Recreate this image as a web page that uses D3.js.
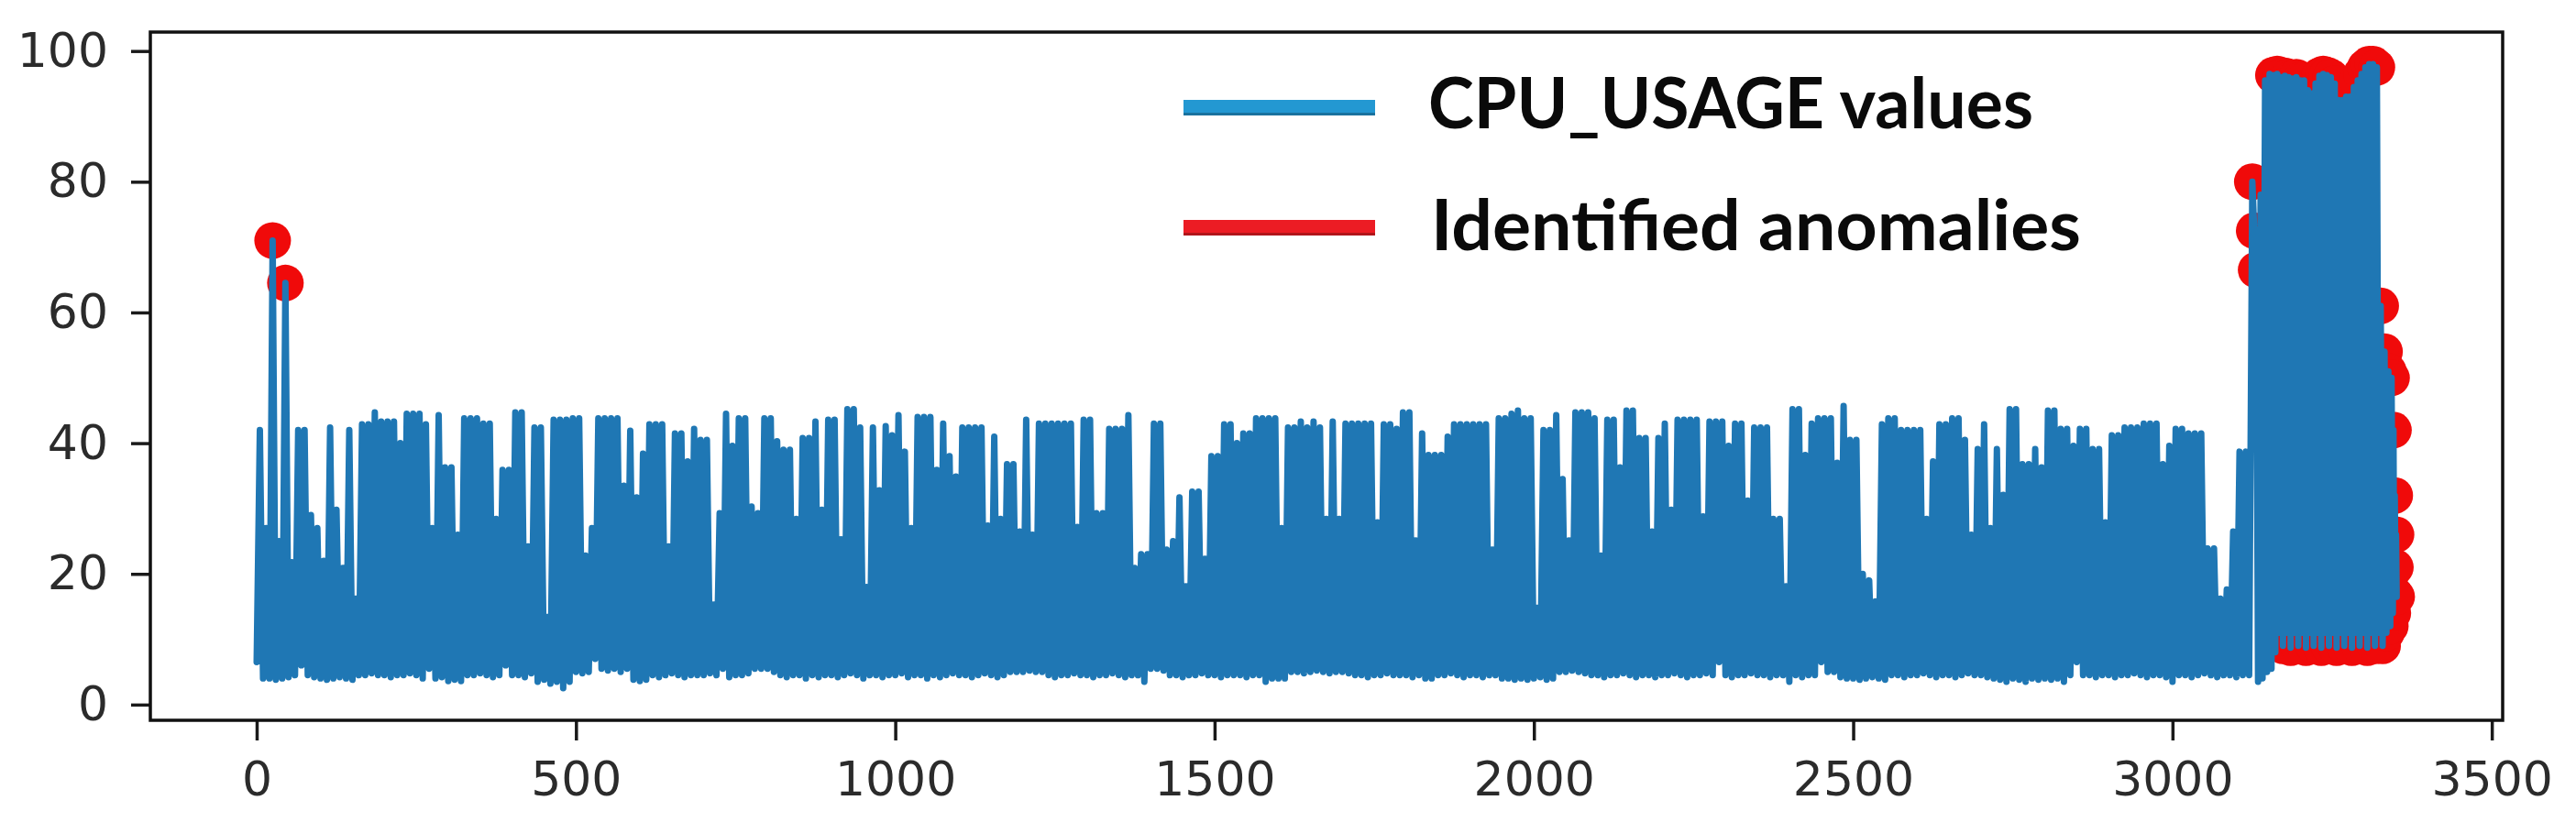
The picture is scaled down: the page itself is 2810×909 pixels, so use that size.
<!DOCTYPE html>
<html>
<head>
<meta charset="utf-8">
<script src="https://cdn.jsdelivr.net/npm/d3@7"></script>
<style>
html,body{margin:0;padding:0;background:#ffffff;}
svg{display:block;}
</style>
</head>
<body>
<svg id="chart" width="2810" height="909"></svg>
<script>
// ---------------- DATA ----------------
// CPU_USAGE is very dense; it is given as one trough and one peak per 10 samples
// (trough at sample 10*i, peak at sample 10*i+5) up to sample 3119.
const cpuPeak = [
  42, 27, 71, 25, 64.5, 21.8, 42, 42, 29, 27,
  22, 42.4, 29.8, 20.9, 42, 16.2, 42.9, 42.9, 44.7, 43.3,
  43.3, 43.3, 40, 44.5, 44.5, 44.5, 42.9, 27, 44.3, 36.3,
  36.3, 26, 43.8, 43.8, 43.8, 43, 43, 28.4, 35.9, 35.9,
  44.7, 44.7, 24.2, 42.4, 42.4, 13.4, 43.6, 43.6, 43.6, 43.8,
  43.8, 22.8, 27, 43.8, 43.8, 43.8, 43.8, 33.5, 41.9, 31.7,
  38.4, 42.9, 42.9, 42.9, 24.2, 41.5, 41.5, 37.2, 42.2, 40.5,
  40.5, 15.3, 29.3, 44.5, 39.6, 43.8, 43.8, 30.3, 29.3, 43.8,
  43.8, 40.3, 39, 39, 28.4, 40.8, 40.8, 43.3, 29.8, 43.6,
  43.6, 25.3, 45.2, 45.2, 42.4, 18, 42.4, 32.8, 42.6, 41.2,
  44.3, 38.7, 27, 44, 44, 44, 35.9, 43, 38, 34.9,
  42.4, 42.4, 42.4, 42.4, 27.4, 41, 28.4, 36.8, 36.8, 26.5,
  43.6, 26, 43, 43, 43, 43, 43, 43, 27.2, 43.6,
  43.6, 29.3, 29.3, 42.2, 42.2, 42.2, 44.3, 20.9, 23, 23,
  43, 43, 23.7, 25, 31.7, 18.1, 32.6, 32.6, 22.3, 38,
  38, 42.9, 42.9, 40, 41.5, 41.5, 43.8, 43.8, 43.8, 43.8,
  27, 42.4, 42.4, 43.3, 42.4, 43.3, 42.4, 28.4, 43.3, 28.4,
  43, 43, 43, 43, 43, 27.9, 42.9, 42.9, 42.2, 44.7,
  44.7, 25.1, 41.5, 38.2, 38.2, 38.2, 41, 42.9, 42.9, 42.9,
  42.9, 42.9, 42.9, 23.7, 43.8, 43.8, 44.5, 45, 43.8, 43.8,
  14.8, 42, 42, 44.3, 34.5, 25.1, 44.7, 44.7, 44.7, 43.8,
  22.8, 43.6, 43.6, 36.3, 45, 45, 40.8, 40.8, 26.5, 40.8,
  43, 29.8, 43.6, 43.6, 43.6, 43.6, 28.8, 43.3, 43.3, 43.3,
  39.6, 43, 43, 31.2, 42.4, 42.4, 42.4, 28.4, 28.4, 18.1,
  45.2, 45.2, 38.2, 43, 43.8, 43.8, 43.8, 37, 45.7, 40.5,
  40.5, 20, 19, 15.8, 42.9, 43.8, 43.8, 42, 42, 42,
  42, 28.4, 37.2, 42.9, 42.9, 43.8, 43.8, 40.5, 26, 39.1,
  42.9, 27, 39.1, 32.1, 45.2, 45.2, 36.8, 36.8, 39.1, 36.3,
  45, 45, 42.2, 42.2, 39.6, 42.2, 42.2, 39.1, 39.1, 27.9,
  41.2, 41.2, 42.4, 42.4, 42.4, 43, 43, 43, 36.8, 39.6,
  42.2, 42.2, 41.5, 41.5, 41.5, 23.9, 23.9, 16.2, 17.6, 26.5,
  38.7, 38.7
];
const cpuTrough = [
  6.5, 4, 4, 3.8, 4, 4.2, 4.5, 6, 4.5, 4.2,
  4, 3.8, 4, 4.2, 4, 3.8, 4.5, 4.5, 4.8, 4.5,
  4.5, 4.2, 4.5, 4.5, 4.8, 4.5, 4, 5.5, 4, 4.2,
  3.6, 3.8, 3.6, 4.5, 4.5, 4.8, 4.5, 4.2, 4.5, 6,
  4.5, 4.5, 4.2, 4.8, 3.5, 3.8, 3.2, 3.5, 2.5, 3.5,
  5, 4.8, 5, 7, 5.5, 5.2, 5.5, 5, 5.5, 3.8,
  3.6, 3.8, 4.5, 4.2, 4.5, 4.8, 4.5, 4.2, 4.5, 4.5,
  4.5, 4.8, 4.5, 5.5, 4.2, 4.5, 4.5, 4.8, 5.5, 5.5,
  5.5, 5, 4.5, 4.2, 4.5, 4.5, 4, 4.5, 4.2, 4.5,
  4.5, 4.2, 4.5, 4.8, 4.5, 4, 4.5, 4.5, 4.2, 4.5,
  4.5, 4.8, 4.2, 4.5, 4.5, 4, 4.5, 4.2, 4.5, 4.8,
  4.5, 4.5, 4.2, 4.5, 4.8, 4.5, 4.2, 4.5, 5, 5,
  5, 5.2, 5, 5, 4.5, 4.2, 4.5, 4.5, 4.8, 4.5,
  4.5, 4.2, 4.5, 4.5, 4.8, 4.5, 4.2, 4.5, 4.5, 3.5,
  5.5, 5.5, 5.2, 4.5, 4.5, 4.2, 4.5, 4.5, 4.8, 4.5,
  4.5, 4.2, 4.5, 4.5, 4.5, 4.2, 4.5, 4.5, 3.5, 4,
  4, 4, 5, 5, 4.8, 5, 5.2, 5, 4.8, 5,
  5, 4.8, 4.5, 4.5, 4.2, 4.5, 4.5, 4.8, 4.5, 4.5,
  4.5, 4.2, 4.5, 4, 4, 4.5, 4.5, 4.8, 4.5, 4.2,
  4.5, 4.5, 4.2, 4.5, 4.5, 4, 4, 3.8, 4, 3.8,
  4, 4.2, 3.8, 4, 5, 5, 5.2, 5, 4.8, 4.5,
  4.5, 4.2, 4.5, 4.5, 4.8, 4.5, 4.2, 4.5, 4.5, 4.2,
  4.5, 4.5, 4.8, 4.5, 4.2, 4.5, 4.5, 4.8, 4.5, 6.5,
  4.5, 4.2, 4.5, 4.5, 4.8, 4.5, 4.5, 4.2, 4.5, 4.5,
  3.5, 4.5, 4.2, 4.5, 4.5, 6.5, 5, 5, 4.2, 4,
  4, 3.8, 4, 4.2, 4, 3.8, 4.5, 4.5, 4.2, 4.5,
  4.5, 4.8, 4.5, 4.2, 4.5, 4.5, 4.2, 4.5, 4.8, 4.5,
  4.5, 4.2, 4, 3.8, 3.5, 4, 3.8, 3.5, 4, 3.8,
  4, 3.8, 4, 3.5, 4.5, 6.5, 4.5, 4.5, 4.2, 4.5,
  4.5, 4.2, 4.5, 4.5, 4.8, 4.5, 4.2, 4.5, 4.5, 4.2,
  3.5, 4.5, 4.5, 4.2, 4.5, 4.8, 4.5, 4.2, 4.5, 4.5,
  4.2, 4.5
];
// Final stretch (anomalous burst) given sample by sample
const tailIndex = [
  3120, 3125, 3128, 3131, 3134, 3138, 3141, 3145, 3148, 3152,
  3155, 3158, 3161, 3164, 3167, 3170, 3173, 3176, 3179, 3182,
  3185, 3188, 3191, 3194, 3197, 3200, 3203, 3206, 3209, 3212,
  3215, 3218, 3221, 3224, 3227, 3230, 3233, 3236, 3239, 3242,
  3245, 3248, 3251, 3254, 3257, 3260, 3263, 3266, 3269, 3272,
  3275, 3278, 3281, 3284, 3287, 3290, 3293, 3296, 3299, 3302,
  3305, 3308, 3311, 3314, 3317, 3320, 3323, 3326, 3329, 3332,
  3335, 3338, 3341, 3343, 3345, 3346, 3347, 3348, 3349, 3350,
  3351
];
const tailValue = [
  4.5, 80, 72.5, 66.5, 3.5, 78, 4, 95.5, 5, 96.5,
  5.5, 96.3, 8, 96.5, 11, 96, 9, 96.2, 11, 96,
  8.7, 95.8, 11, 96, 9, 95.5, 11, 95.5, 8.7, 94,
  11, 93.5, 9, 95, 11, 96.2, 8.7, 96.5, 11, 96.3,
  9, 96, 11, 95, 8.7, 92.5, 11, 92.5, 9, 93,
  11, 93, 8.7, 94.5, 11, 95.5, 9, 96.5, 11, 97.5,
  8.7, 98, 11, 98, 9, 97.5, 11, 61, 9, 54,
  11, 51, 12, 50, 14, 42, 17, 32, 21, 26,
  16.5
];
// Identified anomalies (sample index, value)
const anomalyIndex = [
  25, 45,
  3125, 3128, 3131, 3158, 3164, 3167, 3170, 3173, 3176, 3179, 3182,
  3185, 3188, 3191, 3194, 3197, 3200, 3203, 3206, 3209, 3212,
  3215, 3218, 3221, 3224, 3227, 3230, 3233, 3236, 3239, 3242,
  3245, 3248, 3251, 3254, 3257, 3260, 3263, 3266, 3269, 3272,
  3275, 3278, 3281, 3284, 3287, 3290, 3293, 3296, 3299, 3302,
  3305, 3308, 3311, 3314, 3317, 3320, 3323, 3326, 3329, 3332,
  3335, 3338, 3341, 3343, 3345, 3346, 3347, 3348, 3349, 3350, 3351
];
const anomalyValue = [
  71, 64.5,
  80, 72.5, 66.5, 96.3, 96.5, 11, 96, 9, 96.2, 11, 96,
  8.7, 95.8, 11, 96, 9, 95.5, 11, 95.5, 8.7, 94,
  11, 93.5, 9, 95, 11, 96.2, 8.7, 96.5, 11, 96.3,
  9, 96, 11, 95, 8.7, 92.5, 11, 92.5, 9, 93,
  11, 93, 8.7, 94.5, 11, 95.5, 9, 96.5, 11, 97.5,
  8.7, 98, 11, 98, 9, 97.5, 11, 61, 9, 54,
  11, 51, 12, 50, 14, 42, 17, 32, 21, 26, 16.5
];
const xTicks = [0, 500, 1000, 1500, 2000, 2500, 3000, 3500];
const yTicks = [0, 20, 40, 60, 80, 100];
const legendLabels = ["CPU_USAGE values", "Identified anomalies"];
const legendColors = ["#2398d2", "#ec1c24"];

// ---------------- BUILD SERIES ----------------
const series = [];
cpuPeak.forEach((p, i) => {
  series.push({ t: i * 10, v: cpuTrough[i] });
  series.push({ t: i * 10 + 5, v: p });
});
tailIndex.forEach((t, i) => series.push({ t: t, v: tailValue[i] }));
const anomalies = anomalyIndex.map((t, i) => ({ t: t, v: anomalyValue[i] }));

// ---------------- LAYOUT ----------------
const svg = d3.select("#chart");
const plot = { left: 164, right: 2730, top: 35, bottom: 786 };

const x = d3.scaleLinear().domain([-166.5, 3517]).range([plot.left, plot.right]);
const y = d3.scaleLinear().domain([-2.4, 102.9]).range([plot.bottom, plot.top]);

svg.append("rect").attr("width", 2810).attr("height", 909).attr("fill", "#ffffff");

const clipId = "plotclip";
svg.append("clipPath").attr("id", clipId).append("rect")
  .attr("x", plot.left).attr("y", plot.top)
  .attr("width", plot.right - plot.left).attr("height", plot.bottom - plot.top);

const g = svg.append("g").attr("clip-path", `url(#${clipId})`);

// anomalies markers (under the line)
g.append("g").selectAll("circle").data(anomalies).join("circle")
  .attr("cx", d => x(d.t)).attr("cy", d => y(d.v)).attr("r", 20)
  .attr("fill", "#f00a0a");

// CPU line
const line = d3.line().x(d => x(d.t)).y(d => y(d.v));
g.append("path").datum(series)
  .attr("d", line)
  .attr("fill", "none")
  .attr("stroke", "#1f77b4")
  .attr("stroke-width", 7)
  .attr("stroke-linejoin", "round")
  .attr("stroke-linecap", "round");

// axes
const fontFamily = "'DejaVu Sans', sans-serif";
const yAxis = d3.axisLeft(y).tickValues(yTicks).tickSize(21).tickPadding(25).tickFormat(d3.format("d"));
const xAxis = d3.axisBottom(x).tickValues(xTicks).tickSize(22).tickPadding(23).tickFormat(d3.format("d"));

const gy = svg.append("g").attr("transform", `translate(${plot.left},0)`).call(yAxis);
const gx = svg.append("g").attr("transform", `translate(0,${plot.bottom})`).call(xAxis);
[gx, gy].forEach(ax => {
  ax.select(".domain").remove();
  ax.selectAll(".tick line").attr("stroke", "#1a1a1a").attr("stroke-width", 3.5);
  ax.selectAll(".tick text").attr("fill", "#2b2b2b")
    .style("font-family", fontFamily).style("font-size", "52px");
});

// frame
svg.append("rect")
  .attr("x", plot.left).attr("y", plot.top)
  .attr("width", plot.right - plot.left).attr("height", plot.bottom - plot.top)
  .attr("fill", "none").attr("stroke", "#111111").attr("stroke-width", 3.5);

// legend
const legend = svg.append("g");
const legendRows = [
  { label: legendLabels[0], color: legendColors[0], cy: 116, tx: 1558, base: 140, len: 660 },
  { label: legendLabels[1], color: legendColors[1], cy: 247, tx: 1561, base: 273, len: 709 }
];
legendRows.forEach(r => {
  legend.append("line")
    .attr("x1", 1291).attr("x2", 1500).attr("y1", r.cy + 3).attr("y2", r.cy + 3)
    .attr("stroke", d3.color(r.color).darker(0.8)).attr("stroke-width", 14);
  legend.append("line")
    .attr("x1", 1291).attr("x2", 1500).attr("y1", r.cy).attr("y2", r.cy)
    .attr("stroke", r.color).attr("stroke-width", 14);
  legend.append("text")
    .attr("x", r.tx).attr("y", r.base)
    .attr("textLength", r.len).attr("lengthAdjust", "spacingAndGlyphs")
    .style("font-family", "Lato, 'Open Sans', sans-serif")
    .style("font-weight", 700)
    .style("font-size", "76px")
    .attr("fill", "#0a0a0a")
    .text(r.label);
});
</script>
</body>
</html>
